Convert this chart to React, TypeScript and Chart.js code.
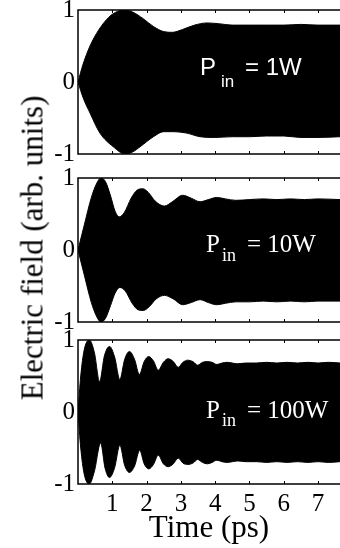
import React, { useEffect, useRef } from 'react';
import { Chart, registerables } from 'chart.js';

Chart.register(...registerables);

// ---- data (time in ps, envelope of electric field in arb. units) ----
const TIME_TICKS = [1, 2, 3, 4, 5, 6, 7];
const FIELD_TICKS = [-1, 0, 1];
const X_MAX = 7.64;

const P1_UPPER: [number, number][] = [
  [0, 0], [0.15, 0.25], [0.35, 0.5], [0.6, 0.72], [0.9, 0.9], [1.15, 0.98], [1.37, 1.0],
  [1.6, 0.97], [1.9, 0.88], [2.2, 0.77], [2.5, 0.7], [2.75, 0.69], [3.05, 0.73], [3.4, 0.79],
  [3.76, 0.82], [4.1, 0.81], [4.5, 0.79], [5.0, 0.79], [5.5, 0.79], [6.0, 0.79], [6.5, 0.8],
  [7.0, 0.79], [7.64, 0.79],
];
const P1_LOWER: [number, number][] = [
  [0, 0], [0.15, -0.22], [0.35, -0.43], [0.64, -0.71], [1.03, -0.9], [1.37, -1.0], [1.6, -0.97],
  [1.81, -0.9], [2.2, -0.76], [2.5, -0.69], [2.8, -0.69], [3.17, -0.71], [3.56, -0.76], [4.0, -0.77],
  [4.5, -0.76], [5.0, -0.76], [5.5, -0.75], [6.0, -0.75], [6.5, -0.77], [7.0, -0.77], [7.64, -0.76],
];

const P2_UPPER: [number, number][] = [
  [0, 0], [0.19, 0.36], [0.39, 0.73], [0.55, 0.93], [0.67, 1.0], [0.8, 0.95], [0.95, 0.75],
  [1.08, 0.54], [1.2, 0.46], [1.35, 0.52], [1.55, 0.72], [1.72, 0.83], [1.89, 0.85], [2.05, 0.8],
  [2.25, 0.68], [2.52, 0.61], [2.75, 0.67], [3.05, 0.76], [3.3, 0.72], [3.56, 0.67], [3.8, 0.7],
  [4.04, 0.73], [4.3, 0.71], [4.6, 0.69], [5.0, 0.7], [5.4, 0.71], [5.8, 0.7], [6.2, 0.71],
  [6.6, 0.7], [7.0, 0.71], [7.64, 0.7],
];
const P2_LOWER: [number, number][] = [
  [0, 0], [0.19, -0.36], [0.39, -0.73], [0.55, -0.93], [0.67, -1.0], [0.8, -0.95], [0.95, -0.77],
  [1.08, -0.6], [1.22, -0.52], [1.38, -0.57], [1.58, -0.74], [1.75, -0.83], [1.9, -0.84], [2.07, -0.79],
  [2.28, -0.68], [2.52, -0.63], [2.78, -0.68], [3.05, -0.76], [3.3, -0.73], [3.56, -0.69], [3.8, -0.73],
  [4.04, -0.76], [4.3, -0.74], [4.6, -0.72], [5.0, -0.72], [5.4, -0.71], [5.8, -0.72], [6.2, -0.71],
  [6.6, -0.72], [7.0, -0.71], [7.64, -0.71],
];

const P3_UPPER: [number, number][] = [
  [0, 0], [0.08, 0.5], [0.18, 0.86], [0.33, 1.0], [0.48, 0.82], [0.63, 0.42],
  [0.77, 0.78], [0.92, 0.91], [1.07, 0.76], [1.22, 0.45],
  [1.36, 0.73], [1.5, 0.84], [1.65, 0.73], [1.79, 0.52],
  [1.93, 0.7], [2.06, 0.77], [2.2, 0.71], [2.34, 0.58],
  [2.49, 0.69], [2.63, 0.74], [2.78, 0.7], [2.92, 0.62],
  [3.06, 0.69], [3.2, 0.72], [3.35, 0.7], [3.49, 0.65],
  [3.63, 0.69], [3.77, 0.7], [3.91, 0.69], [4.05, 0.66],
  [4.2, 0.68], [4.35, 0.69], [4.5, 0.68], [4.65, 0.67],
  [4.9, 0.68], [5.2, 0.68], [5.5, 0.69], [5.8, 0.68], [6.1, 0.69], [6.4, 0.68], [6.7, 0.69],
  [7.0, 0.68], [7.3, 0.69], [7.64, 0.68],
];
const P3_LOWER: [number, number][] = [
  [0, 0], [0.08, -0.5], [0.18, -0.86], [0.33, -1.0], [0.48, -0.82], [0.66, -0.43],
  [0.79, -0.78], [0.92, -0.91], [1.07, -0.77], [1.22, -0.46],
  [1.36, -0.74], [1.5, -0.84], [1.65, -0.75], [1.8, -0.53],
  [1.93, -0.72], [2.06, -0.79], [2.2, -0.73], [2.34, -0.6],
  [2.49, -0.72], [2.63, -0.76], [2.78, -0.72], [2.92, -0.64],
  [3.06, -0.71], [3.2, -0.73], [3.35, -0.71], [3.49, -0.66],
  [3.63, -0.7], [3.77, -0.72], [3.91, -0.7], [4.05, -0.67],
  [4.2, -0.69], [4.35, -0.7], [4.5, -0.69], [4.65, -0.68],
  [4.9, -0.69], [5.2, -0.69], [5.5, -0.7], [5.8, -0.69], [6.1, -0.7], [6.4, -0.69], [6.7, -0.7],
  [7.0, -0.69], [7.3, -0.7], [7.64, -0.69],
];

const POWER_LABELS = ['1W', '10W', '100W'];

const SERIF = '"Liberation Serif", "Times New Roman", serif';
const SANS = '"Liberation Sans", Arial, sans-serif';

type PanelCfg = {
  upper: [number, number][];
  lower: [number, number][];
  power: string;
  top: number;
  height: number;
  showX: boolean;
  labelT: number;
  labelV: number;
  labelFont: string;
  labelSize: number;
  subSize: number;
  subDx: number;
  subDy: number;
  restDx: number;
};

function makeFramePlugin(cfg: PanelCfg) {
  return {
    id: 'frameAndLabel',
    afterDatasetsDraw(chart: any) {
      const { ctx, chartArea, scales } = chart;
      const { left, right, top, bottom } = chartArea;
      ctx.save();
      ctx.strokeStyle = '#000';
      ctx.lineWidth = 1.5;
      ctx.beginPath();
      ctx.moveTo(right + 2, top);
      ctx.lineTo(left, top);
      ctx.lineTo(left, bottom);
      ctx.lineTo(right + 2, bottom);
      ctx.stroke();
      ctx.lineWidth = 1;
      ctx.beginPath();
      for (const v of TIME_TICKS) {
        const x = Math.round(scales.x.getPixelForValue(v)) + 0.5;
        ctx.moveTo(x, top);
        ctx.lineTo(x, top + 3);
        ctx.moveTo(x, bottom);
        ctx.lineTo(x, bottom - 3);
      }
      ctx.stroke();

      const lx = scales.x.getPixelForValue(cfg.labelT);
      const ly = scales.y.getPixelForValue(cfg.labelV);
      ctx.fillStyle = '#fff';
      ctx.textBaseline = 'alphabetic';
      ctx.textAlign = 'left';
      ctx.font = `${cfg.labelSize}px ${cfg.labelFont}`;
      ctx.fillText('P', lx, ly);
      ctx.fillText('= ' + cfg.power, lx + cfg.restDx, ly);
      ctx.font = `${cfg.subSize}px ${cfg.labelFont}`;
      ctx.fillText('in', lx + cfg.subDx, ly + cfg.subDy);
      ctx.restore();
    },
  };
}

function Panel({ cfg }: { cfg: PanelCfg }) {
  const ref = useRef<HTMLCanvasElement>(null);
  useEffect(() => {
    const canvas = ref.current;
    if (!canvas) return;
    const ds = (pts: [number, number][]) => ({
      data: pts.map(([x, y]) => ({ x, y })),
      borderColor: '#000',
      backgroundColor: '#000',
      borderWidth: 1,
      pointRadius: 0,
      fill: 'origin',
      cubicInterpolationMode: 'monotone' as const,
    });
    const chart = new Chart(canvas, {
      type: 'line',
      data: { datasets: [ds(cfg.upper), ds(cfg.lower)] as any },
      options: {
        responsive: false,
        animation: false,
        devicePixelRatio: 1,
        events: [],
        layout: { padding: { top: 20, bottom: cfg.showX ? 0 : 20, left: 0, right: 0 } },
        plugins: { legend: { display: false }, tooltip: { enabled: false } },
        scales: {
          x: {
            type: 'linear',
            min: 0,
            max: X_MAX,
            display: cfg.showX,
            afterBuildTicks: (s: any) => {
              s.ticks = TIME_TICKS.map((v) => ({ value: v }));
            },
            afterFit: (s: any) => {
              if (cfg.showX) s.height = 64;
            },
            grid: { display: false, drawTicks: false },
            border: { display: false },
            ticks: {
              font: { family: SERIF, size: 25 },
              color: '#000',
              padding: 5,
              maxRotation: 0,
              autoSkip: false,
            },
            title: {
              display: true,
              text: 'Time (ps)',
              font: { family: SERIF, size: 31 },
              color: '#000',
              padding: { top: 0, bottom: 1 },
            },
          },
          y: {
            min: -1,
            max: 1,
            afterBuildTicks: (s: any) => {
              s.ticks = FIELD_TICKS.map((v) => ({ value: v }));
            },
            afterFit: (s: any) => {
              s.width = 78;
            },
            grid: { display: false, drawTicks: false },
            border: { display: false },
            ticks: {
              font: { family: SERIF, size: 25 },
              color: '#000',
              padding: 3,
            },
          },
        },
      } as any,
      plugins: [makeFramePlugin(cfg)],
    });
    return () => chart.destroy();
  }, [cfg]);
  return (
    <canvas
      ref={ref}
      width={340}
      height={cfg.height}
      style={{ position: 'absolute', left: 0, top: cfg.top, width: 340, height: cfg.height }}
    />
  );
}

const PANELS: PanelCfg[] = [
  {
    upper: P1_UPPER, lower: P1_LOWER, power: POWER_LABELS[0], top: -10, height: 184, showX: false,
    labelT: 3.56, labelV: 0.1, labelFont: SANS, labelSize: 24, subSize: 17, subDx: 21, subDy: 12, restDx: 45,
  },
  {
    upper: P2_UPPER, lower: P2_LOWER, power: POWER_LABELS[1], top: 158, height: 184, showX: false,
    labelT: 3.73, labelV: -0.03, labelFont: SERIF, labelSize: 25, subSize: 18, subDx: 16, subDy: 9, restDx: 41,
  },
  {
    upper: P3_UPPER, lower: P3_LOWER, power: POWER_LABELS[2], top: 320, height: 228, showX: true,
    labelT: 3.73, labelV: -0.08, labelFont: SERIF, labelSize: 25, subSize: 18, subDx: 16, subDy: 8, restDx: 41,
  },
];

export default function App() {
  return (
    <div
      style={{
        position: 'absolute',
        left: 0,
        top: 0,
        width: 340,
        height: 548,
        overflow: 'hidden',
        background: '#fff',
      }}
    >
      {PANELS.map((p, i) => (
        <Panel key={i} cfg={p} />
      ))}
      <div
        style={{
          position: 'absolute',
          left: 32,
          top: 248,
          transform: 'translate(-50%, -50%) rotate(-90deg)',
          whiteSpace: 'nowrap',
          fontFamily: SERIF,
          fontSize: 31,
          lineHeight: 1,
          color: '#000',
        }}
      >
        Electric field (arb. units)
      </div>
    </div>
  );
}
